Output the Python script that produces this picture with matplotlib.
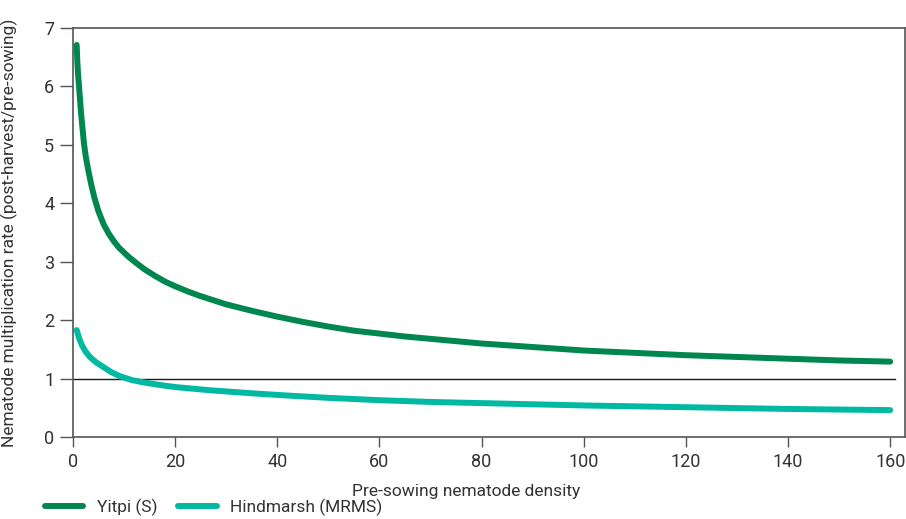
import matplotlib
matplotlib.use("Agg")
import matplotlib.pyplot as plt

# Data
yitpi_x = [0.72, 0.85, 1.0, 1.18, 1.57, 2.15, 2.5, 3.0, 3.6, 4.2, 5.0, 6.0, 7.0, 8.0, 9.0, 10.8, 12.5, 14, 16, 18, 20, 22.5, 25, 27.5, 30, 35, 40, 45, 50, 55, 60, 65, 70, 75, 80, 90, 100, 110, 120, 130, 140, 150, 160]
yitpi_y = [6.71, 6.42, 6.20, 6.00, 5.55, 5.02, 4.80, 4.56, 4.31, 4.09, 3.86, 3.64, 3.48, 3.35, 3.24, 3.09, 2.97, 2.87, 2.76, 2.66, 2.58, 2.49, 2.41, 2.34, 2.27, 2.16, 2.06, 1.97, 1.89, 1.82, 1.77, 1.72, 1.68, 1.64, 1.60, 1.54, 1.48, 1.44, 1.40, 1.37, 1.34, 1.31, 1.29]

hind_x = [0.72, 1.2, 1.7, 2.4, 3.3, 4.5, 5.9, 7.5, 9.2, 11.5, 13.8, 17, 20, 26.8, 34.7, 40, 50, 60, 70, 80, 100, 120, 140, 160]
hind_y = [1.83, 1.69, 1.58, 1.47, 1.37, 1.28, 1.20, 1.11, 1.04, 0.975, 0.935, 0.89, 0.855, 0.80, 0.75, 0.72, 0.67, 0.63, 0.60, 0.58, 0.54, 0.51, 0.48, 0.46]

ref_x = [0, 161]
ref_y = [1, 1]

labels = ["Yitpi (S)", "Hindmarsh (MRMS)"]
colors = ["#00874F", "#00B9A2"]

plt.rcParams['font.family'] = ['Roboto', 'DejaVu Sans']

fig = plt.figure(figsize=(9.06, 5.19), dpi=100)
ax = fig.add_axes([73/906, 1 - 437/519, 832/906, 409/519])

ax.plot(ref_x, ref_y, color="#1a1a1a", lw=1.0, zorder=1)
l1, = ax.plot(yitpi_x, yitpi_y, color=colors[0], lw=4.3, solid_capstyle='round',
              solid_joinstyle='round', label=labels[0], zorder=3)
l2, = ax.plot(hind_x, hind_y, color=colors[1], lw=4.3, solid_capstyle='round',
              solid_joinstyle='round', label=labels[1], zorder=2)

ax.set_xlim(0, 162.9)
ax.set_ylim(0, 7)
ax.set_xticks([0, 20, 40, 60, 80, 100, 120, 140, 160])
ax.set_yticks([0, 1, 2, 3, 4, 5, 6, 7])

for s in ax.spines.values():
    s.set_color("#555555")
    s.set_linewidth(1.2)

ax.tick_params(axis='y', length=9.5, width=1.0, color="#555555", labelsize=13, labelcolor="#333333", pad=4)
ax.tick_params(axis='x', length=7.5, width=1.0, color="#555555", labelsize=13, labelcolor="#333333", pad=4)

ax.set_xlabel("Pre-sowing nematode density", fontsize=12.5, color="#333333")
ax.xaxis.set_label_coords(0.472, -0.115)
ax.set_ylabel("Nematode multiplication rate (post-harvest/pre-sowing)", fontsize=12.5, color="#333333")
ax.yaxis.set_label_coords(-0.066, 0.50)

fig.legend(handles=[l1, l2], loc='center left', bbox_to_anchor=(0.04, 0.022), ncol=2,
           frameon=False, fontsize=12.5, handlelength=2.2, handletextpad=0.8, columnspacing=1.2,
           labelcolor="#333333", borderpad=0)

fig.savefig("out.png", dpi=100)
